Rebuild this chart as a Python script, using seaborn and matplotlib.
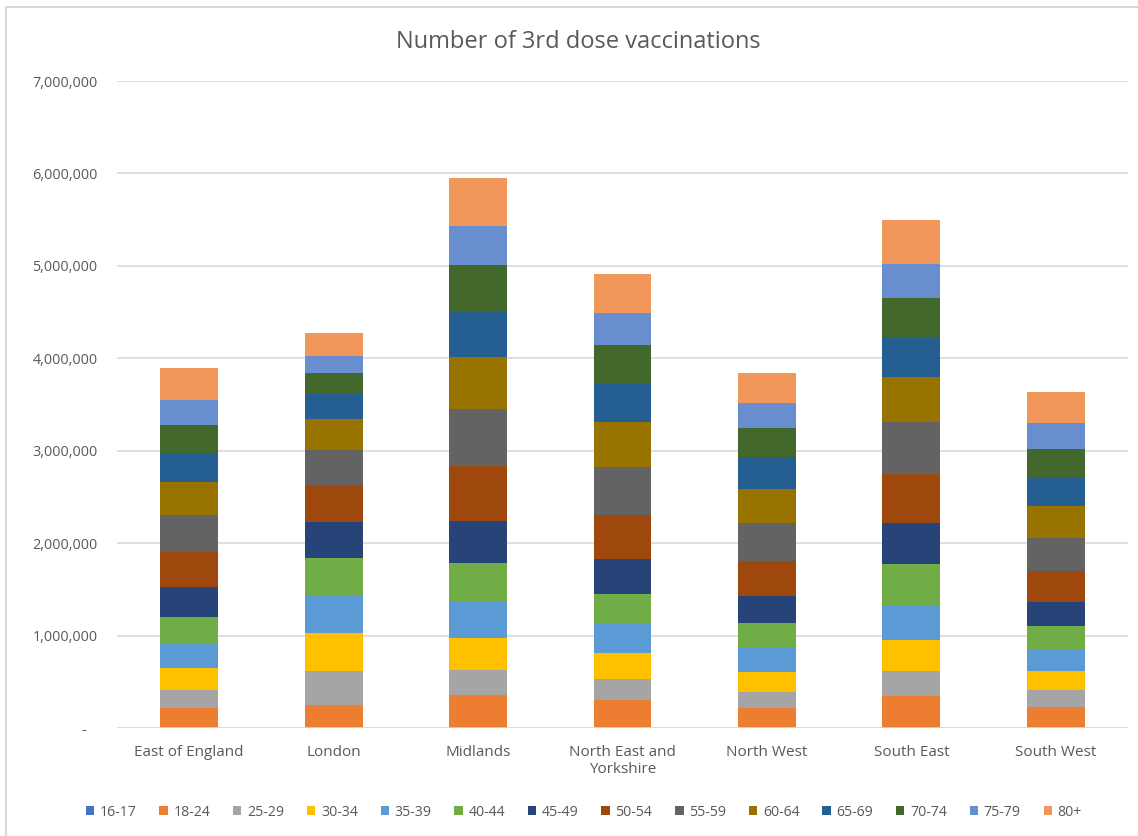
import numpy as np
import pandas as pd
import seaborn as sns
import matplotlib
matplotlib.use("Agg")
import matplotlib.pyplot as plt
from matplotlib.patches import Patch
from matplotlib.ticker import FuncFormatter

regions = ["East of England", "London", "Midlands", "North East and\nYorkshire",
           "North West", "South East", "South West"]
age_groups = ["16-17", "18-24", "25-29", "30-34", "35-39", "40-44", "45-49",
              "50-54", "55-59", "60-64", "65-69", "70-74", "75-79", "80+"]

# third doses per age group, one entry per region (same order as `regions`)
dose_16_17 = [5000, 4000, 12000, 4000, 4000, 12000, 4000]
dose_18_24 = [215000, 249000, 343000, 303000, 209000, 329000, 220000]
dose_25_29 = [195000, 361000, 269000, 223000, 177000, 271000, 184000]
dose_30_34 = [232000, 419000, 347000, 282000, 217000, 344000, 214000]
dose_35_39 = [263000, 401000, 387000, 310000, 260000, 370000, 224000]
dose_40_44 = [296000, 409000, 426000, 332000, 271000, 443000, 253000]
dose_45_49 = [322000, 382000, 458000, 375000, 290000, 454000, 267000]
dose_50_54 = [371000, 401000, 593000, 476000, 383000, 528000, 329000]
dose_55_59 = [405000, 387000, 612000, 515000, 408000, 557000, 365000]
dose_60_64 = [354000, 328000, 572000, 487000, 369000, 491000, 343000]
dose_65_69 = [311000, 274000, 489000, 423000, 339000, 424000, 304000]
dose_70_74 = [311000, 228000, 498000, 414000, 318000, 429000, 311000]
dose_75_79 = [270000, 180000, 426000, 343000, 268000, 366000, 278000]
dose_80_plus = [340000, 246000, 521000, 426000, 329000, 477000, 343000]

series = [dose_16_17, dose_18_24, dose_25_29, dose_30_34, dose_35_39, dose_40_44,
          dose_45_49, dose_50_54, dose_55_59, dose_60_64, dose_65_69, dose_70_74,
          dose_75_79, dose_80_plus]

colors = ["#4472C4", "#ED7D31", "#A5A5A5", "#FFC000", "#5B9BD5", "#70AD47",
          "#264478", "#9E480E", "#636363", "#997300", "#255E91", "#43682B",
          "#698ED0", "#F1975A"]

text_color = "#595959"
grid_color = "#D9D9D9"
font = ["Open Sans", "DejaVu Sans"]

sns.set_theme(style="white")
plt.rcParams["font.family"] = font

fig = plt.figure(figsize=(11.38, 8.36), dpi=100)
ax = fig.add_axes([117 / 1138, 1 - 728 / 836, (1128 - 117) / 1138, (728 - 81) / 836])

bottom = np.zeros(len(regions))
for label, values, color in zip(age_groups, series, colors):
    df = pd.DataFrame({"region": regions, "doses": values})
    sns.barplot(data=df, x="region", y="doses", order=regions, color=color,
                bottom=bottom, width=0.4, errorbar=None, saturation=1,
                edgecolor="none", linewidth=0, ax=ax, zorder=3)
    bottom = bottom + np.array(values, dtype=float)

ax.set_ylim(0, 7_000_000)
ax.set_xlim(-0.5, len(regions) - 0.5)
ax.set_yticks(np.arange(0, 7_000_001, 1_000_000))
ax.yaxis.set_major_formatter(FuncFormatter(lambda v, _: "-   " if v == 0 else f"{v:,.0f}"))
ax.grid(axis="y", color=grid_color, linewidth=1.2, zorder=0)
ax.grid(axis="x", visible=False)
for side in ["top", "right", "left", "bottom"]:
    ax.spines[side].set_visible(False)
ax.axhline(0, color=grid_color, linewidth=1.2, zorder=4)
ax.set_xlabel("")
ax.set_ylabel("")
ax.tick_params(axis="both", length=0, colors=text_color)
ax.tick_params(axis="x", labelsize=11, pad=12)
ax.tick_params(axis="y", labelsize=10.4, pad=14)

fig.text(0.5085, 1 - 42 / 836, "Number of 3rd dose vaccinations", ha="center", va="center",
         fontsize=17, color=text_color)

handles = [Patch(facecolor=c, edgecolor="none", label=l) for l, c in zip(age_groups, colors)]
leg = fig.legend(handles=handles, loc="center", bbox_to_anchor=(0.513, 1 - 812 / 836),
                 ncol=len(age_groups), frameon=False, fontsize=10.2, handlelength=0.6,
                 handleheight=0.6, handletextpad=0.4, columnspacing=1.6,
                 labelcolor=text_color)

# chart border
fig.add_artist(plt.Line2D([6 / 1138, 6 / 1138], [0, 1 - 7 / 836], transform=fig.transFigure,
                          color=grid_color, linewidth=1.5))
fig.add_artist(plt.Line2D([6 / 1138, 1], [1 - 7 / 836, 1 - 7 / 836], transform=fig.transFigure,
                          color=grid_color, linewidth=1.5))

fig.savefig("out.png", dpi=100, facecolor="white")
